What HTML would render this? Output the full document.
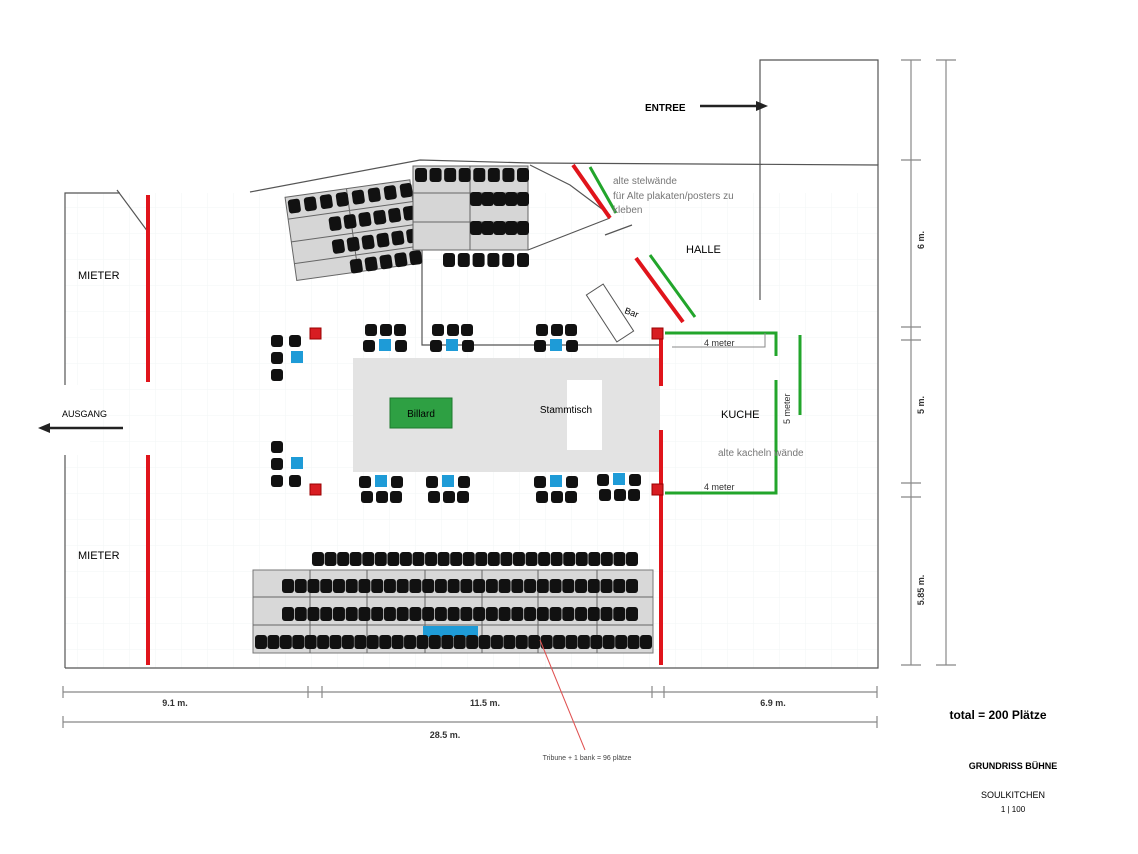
<!DOCTYPE html>
<html><head><meta charset="utf-8"><style>
body{margin:0;background:#fff}
svg{display:block;font-family:"Liberation Sans",sans-serif}
</style></head><body>
<svg id="s" width="1138" height="854" viewBox="0 0 1138 854" xmlns="http://www.w3.org/2000/svg">
<defs><pattern id="g" width="26" height="26" patternUnits="userSpaceOnUse"><path d="M26 0V26H0" fill="none" stroke="#f2f5f5" stroke-width="1"/></pattern></defs>
<rect x="65" y="193" width="813" height="475" fill="url(#g)"/>
<g fill="none" stroke="#555" stroke-width="1.2">
<path d="M65 668V193H120M148 232L117 190M250 192L420 160L530 163L878 165V668H65"/>
<path d="M760 300V60H878V165"/>
<path d="M530 165L570 185L610 215M528 250L610 218M605 235L632 225"/>
<path d="M422 250V345H660"/>
</g>
<rect x="60" y="385" width="30" height="70" fill="#fff"/>
<rect x="353" y="358" width="307" height="114" fill="#e3e3e3"/>
<rect x="390" y="398" width="62" height="30" fill="#2ea043" stroke="#1c7a2e"/>
<text x="421" y="417" font-size="10" text-anchor="middle">Billard</text>
<rect x="567" y="380" width="35" height="70" fill="#fff"/>
<text x="566" y="413" font-size="10" text-anchor="middle">Stammtisch</text>
<g transform="rotate(-8 354 228)"><rect x="290" y="188" width="126" height="84" fill="#d6d6d6" stroke="#666"/><path d="M290 210H416M290 233H416M290 255H416M352 188V272" stroke="#666" fill="none"/><g id="tl"></g></g>
<rect x="413" y="166" width="115" height="84" fill="#d6d6d6" stroke="#666"/>
<path d="M413 193H528M413 222H528M470 166V250" stroke="#666"/>
<rect x="253" y="570" width="400" height="83" fill="#d8d8d8" stroke="#777"/>
<path d="M253 597H653M253 625H653M310 570V653M367 570V653M425 570V653M482 570V653M538 570V653M597 570V653" stroke="#666"/>
<rect x="423" y="626" width="55" height="11" fill="#1e9bd7"/>
<g id="seats"></g>
<g stroke="#e0141b" stroke-width="4" fill="none">
<path d="M148 195V382M148 455V665M661 330V386M661 430V665M573 165L610 218M636 258L683 322"/>
</g>
<g stroke="#22a52b" stroke-width="3" fill="none">
<path d="M590 167L616 213M650 255L695 317M665 333H776V356M776 380V493H665M800 335V415"/>
</g>
<g fill="#d81d22" stroke="#900"><rect x="310" y="328" width="11" height="11"/><rect x="652" y="328" width="11" height="11"/><rect x="310" y="484" width="11" height="11"/><rect x="652" y="484" width="11" height="11"/></g>
<rect x="600" y="285" width="20" height="56" fill="#fff" stroke="#555" transform="rotate(-33 610 313)"/>
<text x="624" y="313" font-size="9" transform="rotate(20 624 313)">Bar</text>
<path d="M672 347H765V333" stroke="#888" fill="none"/>
<g font-size="11">
<text x="78" y="279">MIETER</text><text x="78" y="559">MIETER</text>
<text x="686" y="253">HALLE</text><text x="721" y="418">KUCHE</text>
<text x="645" y="111" font-weight="bold" font-size="10">ENTREE</text>
<text x="62" y="417" font-size="9">AUSGANG</text>
</g>
<path d="M700 106H758" stroke="#222" stroke-width="2.5"/><path d="M768 106L756 101V111Z" fill="#222"/>
<path d="M48 428H123" stroke="#222" stroke-width="2.5"/><path d="M38 428L50 423V433Z" fill="#222"/>
<g font-size="10" fill="#777"><text x="613" y="184">alte stelwände</text><text x="613" y="199">für Alte plakaten/posters zu</text><text x="613" y="213">kleben</text><text x="718" y="456">alte kacheln wände</text></g>
<g font-size="9" fill="#333"><text x="704" y="346">4 meter</text><text x="704" y="490">4 meter</text><text x="790" y="424" transform="rotate(-90 790 424)">5 meter</text></g>
<g stroke="#888" stroke-width="1.2" fill="none">
<path d="M63 692H877M63 686V698M308 686V698M322 686V698M652 686V698M664 686V698M877 686V698"/>
<path d="M63 722H877M63 716V728M877 716V728"/>
<path d="M911 60V665M901 60H921M901 160H921M901 327H921M901 340H921M901 483H921M901 497H921M901 665H921"/>
<path d="M946 60V665M936 60H956M936 665H956"/>
</g>
<g font-size="9" font-weight="bold" fill="#333" text-anchor="middle">
<text x="175" y="706">9.1 m.</text><text x="485" y="706">11.5 m.</text><text x="773" y="706">6.9 m.</text><text x="445" y="738">28.5 m.</text>
<text transform="translate(924 240) rotate(-90)">6 m.</text><text transform="translate(924 405) rotate(-90)">5 m.</text><text transform="translate(924 590) rotate(-90)">5.85 m.</text>
</g>
<path d="M540 640L585 750" stroke="#e05050"/>
<text x="587" y="760" font-size="7" fill="#444" text-anchor="middle">Tribune + 1 bank = 96 plätze</text>
<text x="998" y="719" font-size="12" font-weight="bold" text-anchor="middle">total = 200 Plätze</text>
<text x="1013" y="769" font-size="9" font-weight="bold" text-anchor="middle">GRUNDRISS BÜHNE</text>
<text x="1013" y="798" font-size="9" text-anchor="middle">SOULKITCHEN</text>
<text x="1013" y="812" font-size="8" text-anchor="middle">1 | 100</text>
</svg>
<script>
var NS="http://www.w3.org/2000/svg";
function seat(p,x,y,w,h){var r=document.createElementNS(NS,"rect");r.setAttribute("x",x);r.setAttribute("y",y);r.setAttribute("width",w||12);r.setAttribute("height",h||12);r.setAttribute("rx",3);r.setAttribute("fill","#111");p.appendChild(r);}
var S=document.getElementById("seats"),T=document.getElementById("tl");
function row(p,x0,x1,y,n){for(var i=0;i<n;i++)seat(p,x0+(x1-x0)*i/(n-1),y,12,14);}
row(S,312,626,552,26);row(S,282,626,579,28);row(S,282,626,607,28);row(S,255,640,635,32);
row(S,415,517,168,8);row(S,470,517,192,5);row(S,470,517,221,5);row(S,443,517,253,6);
row(T,292,405,191,8);row(T,330,405,214,6);row(T,330,405,237,6);row(T,345,405,259,5);
function cl(bx,by,top){var b=document.createElementNS(NS,"rect");b.setAttribute("x",bx-6);b.setAttribute("y",by-6);b.setAttribute("width",12);b.setAttribute("height",12);b.setAttribute("fill","#1e9bd7");S.appendChild(b);
seat(S,bx-22,by-5);seat(S,bx+10,by-5);var dy=top?-21:10;seat(S,bx-20,by+dy);seat(S,bx-5,by+dy);seat(S,bx+9,by+dy);}
cl(385,345,1);cl(452,345,1);cl(556,345,1);cl(381,481,0);cl(448,481,0);cl(556,481,0);cl(619,479,0);
function side(bx,by,up){var b=document.createElementNS(NS,"rect");b.setAttribute("x",bx-6);b.setAttribute("y",by-6);b.setAttribute("width",12);b.setAttribute("height",12);b.setAttribute("fill","#1e9bd7");S.appendChild(b);
seat(S,bx-26,by-5);seat(S,bx-26,by+(up?-22:12));seat(S,bx-26,by+(up?12:-22));seat(S,bx-8,by+(up?-22:12));}
side(297,357,1);side(297,463,0);
</script>
</body></html>
